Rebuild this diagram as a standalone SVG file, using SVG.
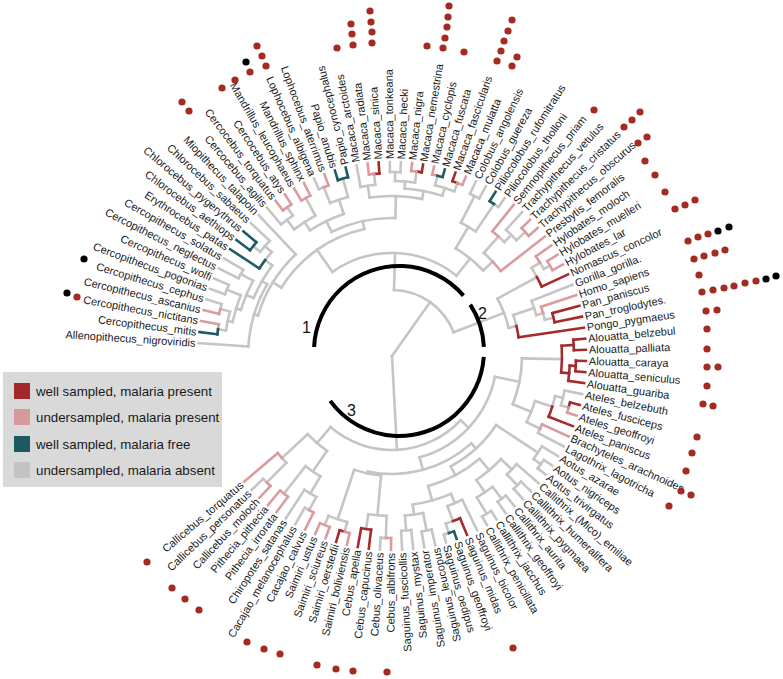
<svg xmlns="http://www.w3.org/2000/svg" width="783" height="679" viewBox="0 0 783 679">
<style>
.g{stroke:#c5c5c5}.r{stroke:#a52a2c}.p{stroke:#da9c9e}.q{stroke:#1b5b61}
.t{font-family:"Liberation Sans",Arial,sans-serif;font-size:11px;fill:#1a1a1a}
.e{text-anchor:end}
.lg{font-family:"Liberation Sans",Arial,sans-serif;font-size:13.3px;fill:#1a1a1a}
.num{font-family:"Liberation Sans",Arial,sans-serif;font-size:16px;fill:#111}
</style>
<rect width="783" height="679" fill="#fff"/>
<g id="connectors" transform="translate(392 356)" fill="none" stroke-width="2.6" stroke-linecap="square">
<g class="g">
<circle r="66" pathLength="360" stroke-dasharray="67.22 400" transform="rotate(271.72)"/>
<circle r="103" pathLength="360" stroke-dasharray="74.00 400" transform="rotate(234.72)"/>
<circle r="130" pathLength="360" stroke-dasharray="46.01 400" transform="rotate(211.71)"/>
<circle r="140" pathLength="360" stroke-dasharray="29.71 400" transform="rotate(196.86)"/>
<circle r="144" pathLength="360" stroke-dasharray="26.11 400" transform="rotate(183.80)"/>
<circle r="150" pathLength="360" stroke-dasharray="14.39 400" transform="rotate(202.72)"/>
<circle r="158" pathLength="360" stroke-dasharray="11.52 400" transform="rotate(196.96)"/>
<circle r="163" pathLength="360" stroke-dasharray="9.87 400" transform="rotate(192.03)"/>
<circle r="168" pathLength="360" stroke-dasharray="6.58 400" transform="rotate(188.74)"/>
<circle r="178" pathLength="360" stroke-dasharray="1.64 400" transform="rotate(195.32)"/>
<circle r="178" pathLength="360" stroke-dasharray="3.29 400" transform="rotate(200.25)"/>
<circle r="172" pathLength="360" stroke-dasharray="3.29 400" transform="rotate(206.83)"/>
<circle r="159" pathLength="360" stroke-dasharray="3.70 400" transform="rotate(217.11)"/>
<circle r="168" pathLength="360" stroke-dasharray="4.93 400" transform="rotate(218.35)"/>
<circle r="138" pathLength="360" stroke-dasharray="27.35 400" transform="rotate(244.05)"/>
<circle r="150" pathLength="360" stroke-dasharray="14.40 400" transform="rotate(236.85)"/>
<circle r="160" pathLength="360" stroke-dasharray="9.05 400" transform="rotate(232.33)"/>
<circle r="172" pathLength="360" stroke-dasharray="4.94 400" transform="rotate(229.86)"/>
<circle r="165" pathLength="360" stroke-dasharray="6.58 400" transform="rotate(247.96)"/>
<circle r="182" pathLength="360" stroke-dasharray="1.65 400" transform="rotate(246.31)"/>
<circle r="160" pathLength="360" stroke-dasharray="18.92 400" transform="rotate(261.94)"/>
<circle r="172" pathLength="360" stroke-dasharray="4.94 400" transform="rotate(259.47)"/>
<circle r="168" pathLength="360" stroke-dasharray="13.16 400" transform="rotate(274.28)"/>
<circle r="175" pathLength="360" stroke-dasharray="6.58 400" transform="rotate(270.99)"/>
<circle r="184" pathLength="360" stroke-dasharray="3.29 400" transform="rotate(269.34)"/>
<circle r="176" pathLength="360" stroke-dasharray="6.58 400" transform="rotate(284.15)"/>
<circle r="125" pathLength="360" stroke-dasharray="16.24 400" transform="rotate(300.60)"/>
<circle r="150" pathLength="360" stroke-dasharray="6.58 400" transform="rotate(297.31)"/>
<circle r="180" pathLength="360" stroke-dasharray="3.29 400" transform="rotate(295.66)"/>
<circle r="183" pathLength="360" stroke-dasharray="1.64 400" transform="rotate(303.89)"/>
<circle r="138" pathLength="360" stroke-dasharray="5.14 400" transform="rotate(311.70)"/>
<circle r="160" pathLength="360" stroke-dasharray="2.88 400" transform="rotate(311.70)"/>
<circle r="170" pathLength="360" stroke-dasharray="4.94 400" transform="rotate(312.11)"/>
<circle r="120" pathLength="360" stroke-dasharray="15.01 400" transform="rotate(331.44)"/>
<circle r="165" pathLength="360" stroke-dasharray="3.70 400" transform="rotate(327.74)"/>
<circle r="175" pathLength="360" stroke-dasharray="2.47 400" transform="rotate(327.74)"/>
<circle r="128" pathLength="360" stroke-dasharray="5.14 400" transform="rotate(341.31)"/>
<circle r="150" pathLength="360" stroke-dasharray="5.76 400" transform="rotate(338.43)"/>
<circle r="157" pathLength="360" stroke-dasharray="2.47 400" transform="rotate(344.19)"/>
<circle r="94" pathLength="360" stroke-dasharray="87.69 400" transform="rotate(403.11)"/>
<circle r="105" pathLength="360" stroke-dasharray="63.36 400" transform="rotate(371.43)"/>
<circle r="130" pathLength="360" stroke-dasharray="20.77 400" transform="rotate(361.05)"/>
<circle r="150" pathLength="360" stroke-dasharray="8.64 400" transform="rotate(377.50)"/>
<circle r="168" pathLength="360" stroke-dasharray="3.70 400" transform="rotate(373.80)"/>
<circle r="176" pathLength="360" stroke-dasharray="4.94 400" transform="rotate(371.33)"/>
<circle r="165" pathLength="360" stroke-dasharray="1.64 400" transform="rotate(386.14)"/>
<circle r="118" pathLength="360" stroke-dasharray="54.04 400" transform="rotate(407.77)"/>
<circle r="125" pathLength="360" stroke-dasharray="28.48 400" transform="rotate(393.54)"/>
<circle r="175" pathLength="360" stroke-dasharray="4.94 400" transform="rotate(391.07)"/>
<circle r="184" pathLength="360" stroke-dasharray="3.29 400" transform="rotate(394.36)"/>
<circle r="135" pathLength="360" stroke-dasharray="24.89 400" transform="rotate(409.57)"/>
<circle r="150" pathLength="360" stroke-dasharray="12.34 400" transform="rotate(403.41)"/>
<circle r="165" pathLength="360" stroke-dasharray="4.94 400" transform="rotate(400.94)"/>
<circle r="180" pathLength="360" stroke-dasharray="3.29 400" transform="rotate(404.23)"/>
<circle r="165" pathLength="360" stroke-dasharray="6.58 400" transform="rotate(412.46)"/>
<circle r="180" pathLength="360" stroke-dasharray="3.29 400" transform="rotate(410.81)"/>
<circle r="184" pathLength="360" stroke-dasharray="3.29 400" transform="rotate(417.39)"/>
<circle r="150" pathLength="360" stroke-dasharray="15.22 400" transform="rotate(426.85)"/>
<circle r="160" pathLength="360" stroke-dasharray="5.76 400" transform="rotate(423.97)"/>
<circle r="176" pathLength="360" stroke-dasharray="2.47 400" transform="rotate(429.73)"/>
<circle r="186" pathLength="360" stroke-dasharray="1.64 400" transform="rotate(432.20)"/>
<circle r="160" pathLength="360" stroke-dasharray="6.58 400" transform="rotate(438.78)"/>
<circle r="178" pathLength="360" stroke-dasharray="3.29 400" transform="rotate(437.13)"/>
<circle r="175" pathLength="360" stroke-dasharray="3.29 400" transform="rotate(443.71)"/>
<circle r="120" pathLength="360" stroke-dasharray="13.16 400" transform="rotate(455.23)"/>
<circle r="160" pathLength="360" stroke-dasharray="6.58 400" transform="rotate(451.94)"/>
<circle r="182" pathLength="360" stroke-dasharray="1.64 400" transform="rotate(451.94)"/>
<circle r="172" pathLength="360" stroke-dasharray="6.58 400" transform="rotate(465.10)"/>
<circle r="115" pathLength="360" stroke-dasharray="12.74 400" transform="rotate(484.43)"/>
<circle r="140" pathLength="360" stroke-dasharray="7.41 400" transform="rotate(480.72)"/>
<circle r="160" pathLength="360" stroke-dasharray="4.93 400" transform="rotate(478.26)"/>
<circle r="175" pathLength="360" stroke-dasharray="1.64 400" transform="rotate(478.26)"/>
<circle r="150" pathLength="360" stroke-dasharray="2.46 400" transform="rotate(494.71)"/>
<circle r="178" pathLength="360" stroke-dasharray="1.64 400" transform="rotate(494.71)"/>
<path d="M0 0H66" transform="rotate(305.33)"/>
<path d="M0 0H94" transform="rotate(446.97)"/>
<path d="M66 0H103" transform="rotate(271.72)"/>
<path d="M66 0H120" transform="rotate(338.94)"/>
<path d="M103 0H130" transform="rotate(234.72)"/>
<path d="M103 0H125" transform="rotate(308.72)"/>
<path d="M130 0H140" transform="rotate(211.71)"/>
<path d="M130 0H138" transform="rotate(257.72)"/>
<path d="M140 0H144" transform="rotate(196.86)"/>
<path d="M144 0H150" transform="rotate(209.91)"/>
<path d="M150 0H158" transform="rotate(202.72)"/>
<path d="M150 0H159" transform="rotate(217.11)"/>
<path d="M158 0H163" transform="rotate(196.96)"/>
<path d="M158 0H172" transform="rotate(208.48)"/>
<path d="M163 0H168" transform="rotate(192.03)"/>
<path d="M163 0H178" transform="rotate(201.90)"/>
<path d="M168 0H176" transform="rotate(188.74)"/>
<path d="M168 0H178" transform="rotate(195.32)"/>
<path d="M159 0H168" transform="rotate(220.81)"/>
<path d="M168 0H177" transform="rotate(218.35)"/>
<path d="M138 0H150" transform="rotate(244.05)"/>
<path d="M138 0H160" transform="rotate(271.40)"/>
<path d="M150 0H160" transform="rotate(236.85)"/>
<path d="M150 0H165" transform="rotate(251.25)"/>
<path d="M160 0H172" transform="rotate(232.33)"/>
<path d="M160 0H180" transform="rotate(241.38)"/>
<path d="M172 0H182" transform="rotate(234.80)"/>
<path d="M165 0H182" transform="rotate(247.96)"/>
<path d="M165 0H184" transform="rotate(254.54)"/>
<path d="M160 0H172" transform="rotate(261.94)"/>
<path d="M160 0H168" transform="rotate(280.86)"/>
<path d="M172 0H183" transform="rotate(264.41)"/>
<path d="M168 0H175" transform="rotate(274.28)"/>
<path d="M168 0H176" transform="rotate(287.44)"/>
<path d="M175 0H184" transform="rotate(270.99)"/>
<path d="M175 0H186" transform="rotate(277.57)"/>
<path d="M176 0H186" transform="rotate(284.15)"/>
<path d="M176 0H185" transform="rotate(290.73)"/>
<path d="M125 0H150" transform="rotate(300.60)"/>
<path d="M125 0H138" transform="rotate(316.84)"/>
<path d="M150 0H180" transform="rotate(297.31)"/>
<path d="M150 0H183" transform="rotate(303.89)"/>
<path d="M138 0H160" transform="rotate(311.70)"/>
<path d="M160 0H170" transform="rotate(314.58)"/>
<path d="M170 0H182" transform="rotate(317.05)"/>
<path d="M120 0H165" transform="rotate(331.44)"/>
<path d="M120 0H128" transform="rotate(346.45)"/>
<path d="M165 0H175" transform="rotate(327.74)"/>
<path d="M175 0H182" transform="rotate(330.21)"/>
<path d="M128 0H150" transform="rotate(341.31)"/>
<path d="M150 0H157" transform="rotate(344.19)"/>
<path d="M157 0H166" transform="rotate(346.66)"/>
<path d="M94 0H105" transform="rotate(403.11)"/>
<path d="M94 0H115" transform="rotate(490.80)"/>
<path d="M105 0H130" transform="rotate(371.43)"/>
<path d="M105 0H118" transform="rotate(434.79)"/>
<path d="M130 0H170" transform="rotate(361.05)"/>
<path d="M130 0H150" transform="rotate(381.82)"/>
<path d="M150 0H168" transform="rotate(377.50)"/>
<path d="M150 0H165" transform="rotate(386.14)"/>
<path d="M168 0H176" transform="rotate(373.80)"/>
<path d="M176 0H184" transform="rotate(376.27)"/>
<path d="M118 0H125" transform="rotate(407.77)"/>
<path d="M118 0H120" transform="rotate(461.81)"/>
<path d="M125 0H175" transform="rotate(393.54)"/>
<path d="M125 0H135" transform="rotate(422.02)"/>
<path d="M175 0H184" transform="rotate(396.01)"/>
<path d="M135 0H150" transform="rotate(409.57)"/>
<path d="M135 0H150" transform="rotate(434.46)"/>
<path d="M150 0H165" transform="rotate(403.41)"/>
<path d="M150 0H165" transform="rotate(415.75)"/>
<path d="M165 0H180" transform="rotate(405.88)"/>
<path d="M165 0H180" transform="rotate(412.46)"/>
<path d="M165 0H184" transform="rotate(419.04)"/>
<path d="M150 0H160" transform="rotate(426.85)"/>
<path d="M150 0H160" transform="rotate(442.07)"/>
<path d="M160 0H176" transform="rotate(429.73)"/>
<path d="M176 0H186" transform="rotate(432.20)"/>
<path d="M160 0H178" transform="rotate(438.78)"/>
<path d="M160 0H175" transform="rotate(445.36)"/>
<path d="M120 0H160" transform="rotate(455.23)"/>
<path d="M120 0H172" transform="rotate(468.39)"/>
<path d="M160 0H182" transform="rotate(451.94)"/>
<path d="M160 0H175" transform="rotate(458.52)"/>
<path d="M172 0H182" transform="rotate(465.10)"/>
<path d="M172 0H182" transform="rotate(471.68)"/>
<path d="M115 0H140" transform="rotate(484.43)"/>
<path d="M115 0H150" transform="rotate(497.17)"/>
<path d="M140 0H160" transform="rotate(480.72)"/>
<path d="M140 0H175" transform="rotate(488.13)"/>
<path d="M160 0H175" transform="rotate(478.26)"/>
<path d="M150 0H178" transform="rotate(494.71)"/>
<path d="M144 0H194" transform="rotate(183.80)"/>
<path d="M178 0H194" transform="rotate(196.96)"/>
<path d="M178 0H194" transform="rotate(200.25)"/>
<path d="M178 0H194" transform="rotate(203.54)"/>
<path d="M172 0H194" transform="rotate(206.83)"/>
<path d="M172 0H194" transform="rotate(210.12)"/>
<path d="M168 0H194" transform="rotate(223.28)"/>
<path d="M140 0H194" transform="rotate(226.57)"/>
<path d="M172 0H194" transform="rotate(229.86)"/>
<path d="M182 0H194" transform="rotate(246.31)"/>
<path d="M172 0H194" transform="rotate(259.47)"/>
<path d="M184 0H194" transform="rotate(269.34)"/>
<path d="M184 0H194" transform="rotate(272.63)"/>
<path d="M180 0H194" transform="rotate(295.66)"/>
<path d="M180 0H194" transform="rotate(298.95)"/>
<path d="M183 0H194" transform="rotate(305.53)"/>
<path d="M170 0H194" transform="rotate(312.11)"/>
<path d="M150 0H194" transform="rotate(338.43)"/>
<path d="M176 0H194" transform="rotate(371.33)"/>
<path d="M165 0H194" transform="rotate(387.78)"/>
<path d="M175 0H194" transform="rotate(391.07)"/>
<path d="M184 0H194" transform="rotate(394.36)"/>
<path d="M184 0H194" transform="rotate(397.65)"/>
<path d="M165 0H194" transform="rotate(400.94)"/>
<path d="M180 0H194" transform="rotate(404.23)"/>
<path d="M180 0H194" transform="rotate(407.52)"/>
<path d="M180 0H194" transform="rotate(410.81)"/>
<path d="M180 0H194" transform="rotate(414.10)"/>
<path d="M184 0H194" transform="rotate(417.39)"/>
<path d="M184 0H194" transform="rotate(420.68)"/>
<path d="M160 0H194" transform="rotate(423.97)"/>
<path d="M186 0H194" transform="rotate(433.84)"/>
<path d="M178 0H194" transform="rotate(437.13)"/>
<path d="M178 0H194" transform="rotate(440.42)"/>
<path d="M175 0H194" transform="rotate(443.71)"/>
<path d="M175 0H194" transform="rotate(447.00)"/>
<path d="M182 0H194" transform="rotate(453.58)"/>
<path d="M175 0H194" transform="rotate(479.90)"/>
<path d="M160 0H194" transform="rotate(483.19)"/>
<path d="M178 0H194" transform="rotate(496.35)"/>
</g>
<g class="r">
<circle r="183" pathLength="360" stroke-dasharray="1.64 400" transform="rotate(264.41)"/>
<circle r="186" pathLength="360" stroke-dasharray="1.64 400" transform="rotate(277.57)"/>
<circle r="185" pathLength="360" stroke-dasharray="1.65 400" transform="rotate(289.08)"/>
<circle r="165" pathLength="360" stroke-dasharray="3.70 400" transform="rotate(331.44)"/>
<circle r="128" pathLength="360" stroke-dasharray="5.14 400" transform="rotate(346.45)"/>
<circle r="166" pathLength="360" stroke-dasharray="3.29 400" transform="rotate(345.01)"/>
<circle r="170" pathLength="360" stroke-dasharray="9.04 400" transform="rotate(356.53)"/>
<circle r="182" pathLength="360" stroke-dasharray="3.29 400" transform="rotate(354.88)"/>
<circle r="178" pathLength="360" stroke-dasharray="4.93 400" transform="rotate(363.11)"/>
<circle r="184" pathLength="360" stroke-dasharray="3.29 400" transform="rotate(361.46)"/>
<circle r="168" pathLength="360" stroke-dasharray="3.70 400" transform="rotate(377.50)"/>
<circle r="184" pathLength="360" stroke-dasharray="1.65 400" transform="rotate(374.62)"/>
<circle r="176" pathLength="360" stroke-dasharray="2.47 400" transform="rotate(427.26)"/>
<circle r="175" pathLength="360" stroke-dasharray="3.29 400" transform="rotate(456.87)"/>
<circle r="182" pathLength="360" stroke-dasharray="1.64 400" transform="rotate(465.10)"/>
<path d="M170 0H182" transform="rotate(356.53)"/>
<path d="M170 0H178" transform="rotate(365.57)"/>
<path d="M178 0H184" transform="rotate(363.11)"/>
<path d="M183 0H194" transform="rotate(266.05)"/>
<path d="M186 0H194" transform="rotate(279.21)"/>
<path d="M185 0H194" transform="rotate(289.08)"/>
<path d="M165 0H194" transform="rotate(335.14)"/>
<path d="M166 0H194" transform="rotate(345.01)"/>
<path d="M166 0H194" transform="rotate(348.30)"/>
<path d="M128 0H194" transform="rotate(351.59)"/>
<path d="M182 0H194" transform="rotate(354.88)"/>
<path d="M182 0H194" transform="rotate(358.17)"/>
<path d="M184 0H194" transform="rotate(361.46)"/>
<path d="M184 0H194" transform="rotate(364.75)"/>
<path d="M178 0H194" transform="rotate(368.04)"/>
<path d="M184 0H194" transform="rotate(374.62)"/>
<path d="M168 0H194" transform="rotate(381.20)"/>
<path d="M176 0H194" transform="rotate(427.26)"/>
<path d="M175 0H194" transform="rotate(456.87)"/>
<path d="M175 0H194" transform="rotate(460.16)"/>
<path d="M182 0H194" transform="rotate(466.74)"/>
</g>
<g class="p">
<circle r="176" pathLength="360" stroke-dasharray="1.64 400" transform="rotate(188.74)"/>
<circle r="178" pathLength="360" stroke-dasharray="1.65 400" transform="rotate(193.67)"/>
<circle r="182" pathLength="360" stroke-dasharray="3.29 400" transform="rotate(233.15)"/>
<circle r="180" pathLength="360" stroke-dasharray="3.29 400" transform="rotate(239.73)"/>
<circle r="182" pathLength="360" stroke-dasharray="1.64 400" transform="rotate(247.96)"/>
<circle r="183" pathLength="360" stroke-dasharray="1.65 400" transform="rotate(262.76)"/>
<circle r="186" pathLength="360" stroke-dasharray="1.65 400" transform="rotate(275.92)"/>
<circle r="186" pathLength="360" stroke-dasharray="1.65 400" transform="rotate(282.50)"/>
<circle r="185" pathLength="360" stroke-dasharray="1.64 400" transform="rotate(290.73)"/>
<circle r="138" pathLength="360" stroke-dasharray="5.14 400" transform="rotate(316.84)"/>
<circle r="160" pathLength="360" stroke-dasharray="2.88 400" transform="rotate(308.82)"/>
<circle r="182" pathLength="360" stroke-dasharray="3.29 400" transform="rotate(315.40)"/>
<circle r="175" pathLength="360" stroke-dasharray="2.47 400" transform="rotate(325.27)"/>
<circle r="182" pathLength="360" stroke-dasharray="3.29 400" transform="rotate(328.56)"/>
<circle r="157" pathLength="360" stroke-dasharray="2.47 400" transform="rotate(341.72)"/>
<circle r="184" pathLength="360" stroke-dasharray="1.64 400" transform="rotate(376.27)"/>
<circle r="165" pathLength="360" stroke-dasharray="1.65 400" transform="rotate(384.49)"/>
<circle r="182" pathLength="360" stroke-dasharray="1.65 400" transform="rotate(450.29)"/>
<circle r="182" pathLength="360" stroke-dasharray="1.65 400" transform="rotate(463.45)"/>
<circle r="182" pathLength="360" stroke-dasharray="3.29 400" transform="rotate(470.03)"/>
<circle r="175" pathLength="360" stroke-dasharray="1.65 400" transform="rotate(476.61)"/>
<circle r="175" pathLength="360" stroke-dasharray="3.29 400" transform="rotate(486.48)"/>
<circle r="150" pathLength="360" stroke-dasharray="2.47 400" transform="rotate(497.17)"/>
<circle r="178" pathLength="360" stroke-dasharray="1.65 400" transform="rotate(493.06)"/>
<path d="M176 0H194" transform="rotate(190.38)"/>
<path d="M178 0H194" transform="rotate(193.67)"/>
<path d="M182 0H194" transform="rotate(233.15)"/>
<path d="M182 0H194" transform="rotate(236.44)"/>
<path d="M180 0H194" transform="rotate(239.73)"/>
<path d="M180 0H194" transform="rotate(243.02)"/>
<path d="M182 0H194" transform="rotate(249.60)"/>
<path d="M183 0H194" transform="rotate(262.76)"/>
<path d="M186 0H194" transform="rotate(275.92)"/>
<path d="M186 0H194" transform="rotate(282.50)"/>
<path d="M185 0H194" transform="rotate(292.37)"/>
<path d="M160 0H194" transform="rotate(308.82)"/>
<path d="M182 0H194" transform="rotate(315.40)"/>
<path d="M182 0H194" transform="rotate(318.69)"/>
<path d="M138 0H194" transform="rotate(321.98)"/>
<path d="M175 0H194" transform="rotate(325.27)"/>
<path d="M182 0H194" transform="rotate(328.56)"/>
<path d="M182 0H194" transform="rotate(331.85)"/>
<path d="M157 0H194" transform="rotate(341.72)"/>
<path d="M184 0H194" transform="rotate(377.91)"/>
<path d="M165 0H194" transform="rotate(384.49)"/>
<path d="M182 0H194" transform="rotate(450.29)"/>
<path d="M182 0H194" transform="rotate(463.45)"/>
<path d="M182 0H194" transform="rotate(470.03)"/>
<path d="M182 0H194" transform="rotate(473.32)"/>
<path d="M175 0H194" transform="rotate(476.61)"/>
<path d="M175 0H194" transform="rotate(486.48)"/>
<path d="M175 0H194" transform="rotate(489.77)"/>
<path d="M178 0H194" transform="rotate(493.06)"/>
<path d="M150 0H194" transform="rotate(499.64)"/>
</g>
<g class="q">
<circle r="176" pathLength="360" stroke-dasharray="1.65 400" transform="rotate(187.09)"/>
<circle r="159" pathLength="360" stroke-dasharray="3.70 400" transform="rotate(213.41)"/>
<circle r="177" pathLength="360" stroke-dasharray="3.29 400" transform="rotate(216.70)"/>
<circle r="184" pathLength="360" stroke-dasharray="3.29 400" transform="rotate(252.89)"/>
<circle r="186" pathLength="360" stroke-dasharray="1.64 400" transform="rotate(284.15)"/>
<circle r="183" pathLength="360" stroke-dasharray="1.65 400" transform="rotate(302.24)"/>
<circle r="186" pathLength="360" stroke-dasharray="1.65 400" transform="rotate(430.55)"/>
<path d="M176 0H194" transform="rotate(187.09)"/>
<path d="M159 0H194" transform="rotate(213.41)"/>
<path d="M177 0H194" transform="rotate(216.70)"/>
<path d="M177 0H194" transform="rotate(219.99)"/>
<path d="M184 0H194" transform="rotate(252.89)"/>
<path d="M184 0H194" transform="rotate(256.18)"/>
<path d="M186 0H194" transform="rotate(285.79)"/>
<path d="M183 0H194" transform="rotate(302.24)"/>
<path d="M186 0H194" transform="rotate(430.55)"/>
</g>
</g>
<g id="clade-arcs" transform="translate(399 351)" fill="none" stroke="#000" stroke-width="4">
<circle r="85" pathLength="360" stroke-dasharray="136.6 400" transform="rotate(182.7)"/>
<circle r="85" pathLength="360" stroke-dasharray="30.3 400" transform="rotate(327)"/>
<circle r="85" pathLength="360" stroke-dasharray="140 400" transform="rotate(4)"/>
</g>
<g id="clade-numbers" class="num">
<text x="302" y="333">1</text>
<text x="478" y="319">2</text>
<text x="347" y="416">3</text>
</g>
<g id="labels" class="t" transform="translate(392 356)">
<g id="tip-Allenopithecus_nigroviridis"><text class="e" x="-197" y="3.9" transform="rotate(3.80)">Allenopithecus_nigroviridis</text></g>
<g id="tip-Cercopithecus_mitis"><text class="e" x="-197" y="3.9" transform="rotate(7.09)">Cercopithecus_mitis</text></g>
<g id="tip-Cercopithecus_nictitans"><text class="e" x="-197" y="3.9" transform="rotate(10.38)">Cercopithecus_nictitans</text></g>
<g id="tip-Cercopithecus_ascanius"><text class="e" x="-197" y="3.9" transform="rotate(13.67)">Cercopithecus_ascanius</text></g>
<g id="tip-Cercopithecus_cephus"><text class="e" x="-197" y="3.9" transform="rotate(16.96)">Cercopithecus_cephus</text></g>
<g id="tip-Cercopithecus_pogonias"><text class="e" x="-197" y="3.9" transform="rotate(20.25)">Cercopithecus_pogonias</text></g>
<g id="tip-Cercopithecus_wolfi"><text class="e" x="-197" y="3.9" transform="rotate(23.54)">Cercopithecus_wolfi</text></g>
<g id="tip-Cercopithecus_neglectus"><text class="e" x="-197" y="3.9" transform="rotate(26.83)">Cercopithecus_neglectus</text></g>
<g id="tip-Cercopithecus_solatus"><text class="e" x="-197" y="3.9" transform="rotate(30.12)">Cercopithecus_solatus</text></g>
<g id="tip-Erythrocebus_patas"><text class="e" x="-197" y="3.9" transform="rotate(33.41)">Erythrocebus_patas</text></g>
<g id="tip-Chlorocebus_aethiops"><text class="e" x="-197" y="3.9" transform="rotate(36.70)">Chlorocebus_aethiops</text></g>
<g id="tip-Chlorocebus_pygerythrus"><text class="e" x="-197" y="3.9" transform="rotate(39.99)">Chlorocebus_pygerythrus</text></g>
<g id="tip-Chlorocebus_sabaeus"><text class="e" x="-197" y="3.9" transform="rotate(43.28)">Chlorocebus_sabaeus</text></g>
<g id="tip-Miopithecus_talapoin"><text class="e" x="-197" y="3.9" transform="rotate(46.57)">Miopithecus_talapoin</text></g>
<g id="tip-Cercocebus_agilis"><text class="e" x="-197" y="3.9" transform="rotate(49.86)">Cercocebus_agilis</text></g>
<g id="tip-Cercocebus_torquatus"><text class="e" x="-197" y="3.9" transform="rotate(53.15)">Cercocebus_torquatus</text></g>
<g id="tip-Cercocebus_atys"><text class="e" x="-197" y="3.9" transform="rotate(56.44)">Cercocebus_atys</text></g>
<g id="tip-Mandrillus_leucophaeus"><text class="e" x="-197" y="3.9" transform="rotate(59.73)">Mandrillus_leucophaeus</text></g>
<g id="tip-Mandrillus_sphinx"><text class="e" x="-197" y="3.9" transform="rotate(63.02)">Mandrillus_sphinx</text></g>
<g id="tip-Lophocebus_albigena"><text class="e" x="-197" y="3.9" transform="rotate(66.31)">Lophocebus_albigena</text></g>
<g id="tip-Lophocebus_aterrimus"><text class="e" x="-197" y="3.9" transform="rotate(69.60)">Lophocebus_aterrimus</text></g>
<g id="tip-Papio_anubis"><text class="e" x="-197" y="3.9" transform="rotate(72.89)">Papio_anubis</text></g>
<g id="tip-Papio_cynocephalus"><text x="197" y="3.9" transform="rotate(256.18)">Papio_cynocephalus</text></g>
<g id="tip-Macaca_arctoides"><text x="197" y="3.9" transform="rotate(259.47)">Macaca_arctoides</text></g>
<g id="tip-Macaca_radiata"><text x="197" y="3.9" transform="rotate(262.76)">Macaca_radiata</text></g>
<g id="tip-Macaca_sinica"><text x="197" y="3.9" transform="rotate(266.05)">Macaca_sinica</text></g>
<g id="tip-Macaca_tonkeana"><text x="197" y="3.9" transform="rotate(269.34)">Macaca_tonkeana</text></g>
<g id="tip-Macaca_hecki"><text x="197" y="3.9" transform="rotate(272.63)">Macaca_hecki</text></g>
<g id="tip-Macaca_nigra"><text x="197" y="3.9" transform="rotate(275.92)">Macaca_nigra</text></g>
<g id="tip-Macaca_nemestrina"><text x="197" y="3.9" transform="rotate(279.21)">Macaca_nemestrina</text></g>
<g id="tip-Macaca_cyclopis"><text x="197" y="3.9" transform="rotate(282.50)">Macaca_cyclopis</text></g>
<g id="tip-Macaca_fuscata"><text x="197" y="3.9" transform="rotate(285.79)">Macaca_fuscata</text></g>
<g id="tip-Macaca_fascicularis"><text x="197" y="3.9" transform="rotate(289.08)">Macaca_fascicularis</text></g>
<g id="tip-Macaca_mulatta"><text x="197" y="3.9" transform="rotate(292.37)">Macaca_mulatta</text></g>
<g id="tip-Colobus_angolensis"><text x="197" y="3.9" transform="rotate(295.66)">Colobus_angolensis</text></g>
<g id="tip-Colobus_guereza"><text x="197" y="3.9" transform="rotate(298.95)">Colobus_guereza</text></g>
<g id="tip-Piliocolobus_rufomitratus"><text x="197" y="3.9" transform="rotate(302.24)">Piliocolobus_rufomitratus</text></g>
<g id="tip-Piliocolobus_tholloni"><text x="197" y="3.9" transform="rotate(305.53)">Piliocolobus_tholloni</text></g>
<g id="tip-Semnopithecus_priam"><text x="197" y="3.9" transform="rotate(308.82)">Semnopithecus_priam</text></g>
<g id="tip-Trachypithecus_vetulus"><text x="197" y="3.9" transform="rotate(312.11)">Trachypithecus_vetulus</text></g>
<g id="tip-Trachypithecus_cristatus"><text x="197" y="3.9" transform="rotate(315.40)">Trachypithecus_cristatus</text></g>
<g id="tip-Trachypithecus_obscurus"><text x="197" y="3.9" transform="rotate(318.69)">Trachypithecus_obscurus</text></g>
<g id="tip-Presbytis_femoralis"><text x="197" y="3.9" transform="rotate(321.98)">Presbytis_femoralis</text></g>
<g id="tip-Hylobates_moloch"><text x="197" y="3.9" transform="rotate(325.27)">Hylobates_moloch</text></g>
<g id="tip-Hylobates_muelleri"><text x="197" y="3.9" transform="rotate(328.56)">Hylobates_muelleri</text></g>
<g id="tip-Hylobates_lar"><text x="197" y="3.9" transform="rotate(331.85)">Hylobates_lar</text></g>
<g id="tip-Nomascus_concolor"><text x="197" y="3.9" transform="rotate(335.14)">Nomascus_concolor</text></g>
<g id="tip-Gorilla_gorilla"><text x="197" y="3.9" transform="rotate(338.43)">Gorilla_gorilla.</text></g>
<g id="tip-Homo_sapiens"><text x="197" y="3.9" transform="rotate(341.72)">Homo_sapiens</text></g>
<g id="tip-Pan_paniscus"><text x="197" y="3.9" transform="rotate(345.01)">Pan_paniscus</text></g>
<g id="tip-Pan_troglodytes"><text x="197" y="3.9" transform="rotate(348.30)">Pan_troglodytes.</text></g>
<g id="tip-Pongo_pygmaeus"><text x="197" y="3.9" transform="rotate(351.59)">Pongo_pygmaeus</text></g>
<g id="tip-Alouatta_belzebul"><text x="197" y="3.9" transform="rotate(354.88)">Alouatta_belzebul</text></g>
<g id="tip-Alouatta_palliata"><text x="197" y="3.9" transform="rotate(358.17)">Alouatta_palliata</text></g>
<g id="tip-Alouatta_caraya"><text x="197" y="3.9" transform="rotate(361.46)">Alouatta_caraya</text></g>
<g id="tip-Alouatta_seniculus"><text x="197" y="3.9" transform="rotate(364.75)">Alouatta_seniculus</text></g>
<g id="tip-Alouatta_guariba"><text x="197" y="3.9" transform="rotate(368.04)">Alouatta_guariba</text></g>
<g id="tip-Ateles_belzebuth"><text x="197" y="3.9" transform="rotate(371.33)">Ateles_belzebuth</text></g>
<g id="tip-Ateles_fusciceps"><text x="197" y="3.9" transform="rotate(374.62)">Ateles_fusciceps</text></g>
<g id="tip-Ateles_geoffroyi"><text x="197" y="3.9" transform="rotate(377.91)">Ateles_geoffroyi</text></g>
<g id="tip-Ateles_paniscus"><text x="197" y="3.9" transform="rotate(381.20)">Ateles_paniscus</text></g>
<g id="tip-Brachyteles_arachnoides"><text x="197" y="3.9" transform="rotate(384.49)">Brachyteles_arachnoides</text></g>
<g id="tip-Lagothrix_lagotricha"><text x="197" y="3.9" transform="rotate(387.78)">Lagothrix_lagotricha</text></g>
<g id="tip-Aotus_azarae"><text x="197" y="3.9" transform="rotate(391.07)">Aotus_azarae</text></g>
<g id="tip-Aotus_nigriceps"><text x="197" y="3.9" transform="rotate(394.36)">Aotus_nigriceps</text></g>
<g id="tip-Aotus_trivirgatus"><text x="197" y="3.9" transform="rotate(397.65)">Aotus_trivirgatus</text></g>
<g id="tip-Callithrix_Mico_emiliae"><text x="197" y="3.9" transform="rotate(400.94)">Callithrix_(Mico)_emiliae</text></g>
<g id="tip-Callithrix_humeralifera"><text x="197" y="3.9" transform="rotate(404.23)">Callithrix_humeralifera</text></g>
<g id="tip-Callithrix_pygmaea"><text x="197" y="3.9" transform="rotate(407.52)">Callithrix_pygmaea</text></g>
<g id="tip-Callithrix_aurita"><text x="197" y="3.9" transform="rotate(410.81)">Callithrix_aurita</text></g>
<g id="tip-Callithrix_geoffroyi"><text x="197" y="3.9" transform="rotate(414.10)">Callithrix_geoffroyi</text></g>
<g id="tip-Callithrix_jacchus"><text x="197" y="3.9" transform="rotate(417.39)">Callithrix_jacchus</text></g>
<g id="tip-Callithrix_penicillata"><text x="197" y="3.9" transform="rotate(420.68)">Callithrix_penicillata</text></g>
<g id="tip-Saguinus_bicolor"><text x="197" y="3.9" transform="rotate(423.97)">Saguinus_bicolor</text></g>
<g id="tip-Saguinus_midas"><text x="197" y="3.9" transform="rotate(427.26)">Saguinus_midas</text></g>
<g id="tip-Saguinus_geoffroyi"><text x="197" y="3.9" transform="rotate(430.55)">Saguinus_geoffroyi</text></g>
<g id="tip-Saguinus_oedipus"><text x="197" y="3.9" transform="rotate(433.84)">Saguinus_oedipus</text></g>
<g id="tip-Saguinus_leucopus"><text class="e" x="-197" y="3.9" transform="rotate(257.13)">Saguinus_leucopus</text></g>
<g id="tip-Saguinus_imperator"><text class="e" x="-197" y="3.9" transform="rotate(260.42)">Saguinus_imperator</text></g>
<g id="tip-Saguinus_mystax"><text class="e" x="-197" y="3.9" transform="rotate(263.71)">Saguinus_mystax</text></g>
<g id="tip-Saguinus_fuscicollis"><text class="e" x="-197" y="3.9" transform="rotate(267.00)">Saguinus_fuscicollis</text></g>
<g id="tip-Cebus_albifrons"><text class="e" x="-197" y="3.9" transform="rotate(270.29)">Cebus_albifrons</text></g>
<g id="tip-Cebus_olivaceus"><text class="e" x="-197" y="3.9" transform="rotate(273.58)">Cebus_olivaceus</text></g>
<g id="tip-Cebus_capucinus"><text class="e" x="-197" y="3.9" transform="rotate(276.87)">Cebus_capucinus</text></g>
<g id="tip-Cebus_apella"><text class="e" x="-197" y="3.9" transform="rotate(280.16)">Cebus_apella</text></g>
<g id="tip-Saimiri_boliviensis"><text class="e" x="-197" y="3.9" transform="rotate(283.45)">Saimiri_boliviensis</text></g>
<g id="tip-Saimiri_oerstedii"><text class="e" x="-197" y="3.9" transform="rotate(286.74)">Saimiri_oerstedii</text></g>
<g id="tip-Saimiri_sciureus"><text class="e" x="-197" y="3.9" transform="rotate(290.03)">Saimiri_sciureus</text></g>
<g id="tip-Saimiri_ustus"><text class="e" x="-197" y="3.9" transform="rotate(293.32)">Saimiri_ustus</text></g>
<g id="tip-Cacajao_calvus"><text class="e" x="-197" y="3.9" transform="rotate(296.61)">Cacajao_calvus</text></g>
<g id="tip-Cacajao_melanocephalus"><text class="e" x="-197" y="3.9" transform="rotate(299.90)">Cacajao_melanocephalus</text></g>
<g id="tip-Chiropotes_satanas"><text class="e" x="-197" y="3.9" transform="rotate(303.19)">Chiropotes_satanas</text></g>
<g id="tip-Pithecia_irrorata"><text class="e" x="-197" y="3.9" transform="rotate(306.48)">Pithecia_irrorata</text></g>
<g id="tip-Pithecia_pithecia"><text class="e" x="-197" y="3.9" transform="rotate(309.77)">Pithecia_pithecia</text></g>
<g id="tip-Callicebus_moloch"><text class="e" x="-197" y="3.9" transform="rotate(313.06)">Callicebus_moloch</text></g>
<g id="tip-Callicebus_personatus"><text class="e" x="-197" y="3.9" transform="rotate(316.35)">Callicebus_personatus</text></g>
<g id="tip-Callicebus_torquatus"><text class="e" x="-197" y="3.9" transform="rotate(319.64)">Callicebus_torquatus</text></g>
</g>
<g id="malaria-dots" fill="#a52a22">
<circle cx="182" cy="102" r="3.6"/><circle cx="189" cy="111" r="3.6"/><circle cx="222" cy="88" r="3.6"/><circle cx="235" cy="80" r="3.6"/>
<circle cx="250" cy="72" r="3.6"/><circle cx="257" cy="46" r="3.6"/><circle cx="262" cy="56" r="3.6"/><circle cx="266" cy="66" r="3.6"/>
<circle cx="337" cy="48" r="3.6"/><circle cx="351" cy="24" r="3.6"/><circle cx="352" cy="34" r="3.6"/><circle cx="353" cy="45" r="3.6"/>
<circle cx="370" cy="11" r="3.6"/><circle cx="371" cy="22" r="3.6"/><circle cx="372" cy="32" r="3.6"/><circle cx="372" cy="43" r="3.6"/>
<circle cx="427" cy="46" r="3.6"/><circle cx="449" cy="6" r="3.6"/><circle cx="448" cy="17" r="3.6"/><circle cx="447" cy="27" r="3.6"/>
<circle cx="445" cy="38" r="3.6"/><circle cx="443" cy="48" r="3.6"/><circle cx="464" cy="52" r="3.6"/><circle cx="512" cy="20" r="3.6"/>
<circle cx="508" cy="31" r="3.6"/><circle cx="504" cy="41" r="3.6"/><circle cx="501" cy="51" r="3.6"/><circle cx="497" cy="61" r="3.6"/>
<circle cx="517" cy="57" r="3.6"/><circle cx="512" cy="66" r="3.6"/><circle cx="594" cy="110" r="3.6"/><circle cx="640" cy="112" r="3.6"/>
<circle cx="632" cy="120" r="3.6"/><circle cx="624" cy="127" r="3.6"/><circle cx="647" cy="137" r="3.6"/><circle cx="638" cy="143" r="3.6"/>
<circle cx="645" cy="161" r="3.6"/><circle cx="655" cy="175" r="3.6"/><circle cx="665" cy="192" r="3.6"/><circle cx="695" cy="200" r="3.6"/>
<circle cx="685" cy="205" r="3.6"/><circle cx="675" cy="209" r="3.6"/><circle cx="708" cy="234" r="3.6"/><circle cx="698" cy="237" r="3.6"/>
<circle cx="688" cy="241" r="3.6"/><circle cx="725" cy="250" r="3.6"/><circle cx="715" cy="253" r="3.6"/><circle cx="704" cy="256" r="3.6"/>
<circle cx="694" cy="259" r="3.6"/><circle cx="699" cy="275" r="3.6"/><circle cx="702" cy="292" r="3.6"/><circle cx="713" cy="290" r="3.6"/>
<circle cx="724" cy="288" r="3.6"/><circle cx="734" cy="286" r="3.6"/><circle cx="745" cy="283" r="3.6"/><circle cx="756" cy="281" r="3.6"/>
<circle cx="706" cy="311" r="3.6"/><circle cx="717" cy="310" r="3.6"/><circle cx="707" cy="329" r="3.6"/><circle cx="707" cy="349" r="3.6"/>
<circle cx="707" cy="367" r="3.6"/><circle cx="718" cy="367" r="3.6"/><circle cx="707" cy="386" r="3.6"/><circle cx="703" cy="404" r="3.6"/>
<circle cx="713" cy="406" r="3.6"/><circle cx="697" cy="437" r="3.6"/><circle cx="692" cy="453" r="3.6"/><circle cx="686" cy="471" r="3.6"/>
<circle cx="681" cy="491" r="3.6"/><circle cx="691" cy="495" r="3.6"/><circle cx="669" cy="506" r="3.6"/><circle cx="513" cy="648" r="3.6"/>
<circle cx="317" cy="665" r="3.6"/><circle cx="336" cy="669" r="3.6"/><circle cx="353" cy="671" r="3.6"/><circle cx="387" cy="672" r="3.6"/>
<circle cx="147" cy="562" r="3.6"/><circle cx="172" cy="588" r="3.6"/><circle cx="185" cy="599" r="3.6"/><circle cx="199" cy="610" r="3.6"/>
<circle cx="247" cy="642" r="3.6"/><circle cx="264" cy="649" r="3.6"/><circle cx="280" cy="654" r="3.6"/><circle cx="77" cy="297" r="3.6"/>
<g fill="#000">
<circle cx="246" cy="62" r="3.6"/><circle cx="729" cy="227" r="3.6"/><circle cx="718" cy="231" r="3.6"/><circle cx="766" cy="279" r="3.6"/>
<circle cx="776" cy="276" r="3.6"/><circle cx="84" cy="259" r="3.6"/><circle cx="67" cy="293" r="3.6"/>
</g>
</g>
<g id="legend">
<rect x="3" y="372" width="219" height="115" fill="#d9d9d9"/>
<rect x="14" y="383" width="16" height="16" fill="#a3282a"/>
<rect x="14" y="409" width="16" height="16" fill="#d69a9c"/>
<rect x="14" y="436" width="16" height="16" fill="#1c5a60"/>
<rect x="14" y="462" width="16" height="16" fill="#c3c3c3"/>
<text class="lg" x="36" y="396">well sampled, malaria present</text>
<text class="lg" x="36" y="422">undersampled, malaria present</text>
<text class="lg" x="36" y="449">well sampled, malaria free</text>
<text class="lg" x="36" y="475">undersampled, malaria absent</text>
</g>
</svg>
